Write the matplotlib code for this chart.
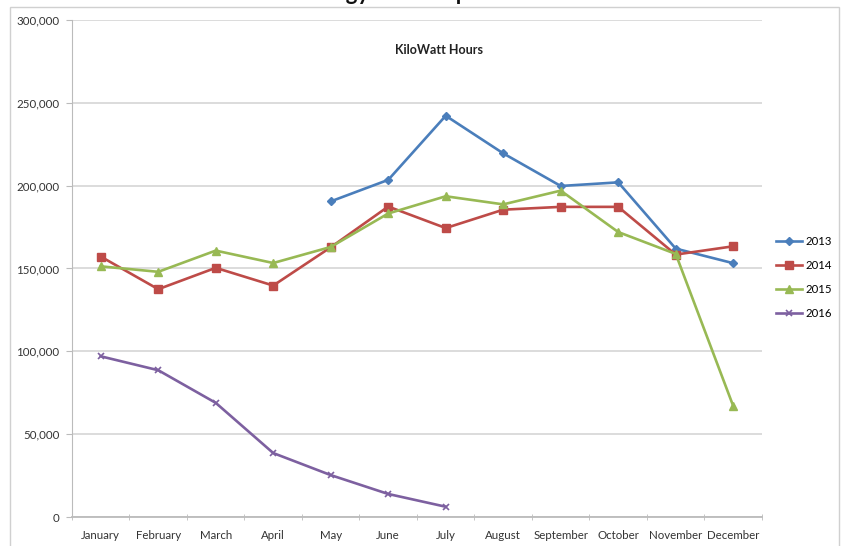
import numpy as np
import matplotlib.pyplot as plt
from matplotlib.ticker import FuncFormatter, FixedLocator
from matplotlib.patches import Rectangle

plt.rcParams['font.family'] = ['Lato', 'DejaVu Sans']

months = ["January", "February", "March", "April", "May", "June", "July",
          "August", "September", "October", "November", "December"]

kwh_2013 = [np.nan, np.nan, np.nan, np.nan, 190500, 203500, 242200,
            219500, 199800, 202000, 162000, 153200]
kwh_2014 = [157200, 137500, 150400, 139700, 162800, 187400, 174400,
            185500, 187200, 187200, 158400, 163400]
kwh_2015 = [151300, 148000, 160800, 153300, 163000, 183200, 193600,
            188700, 197000, 172000, 158800, 67000]
kwh_2016 = [97000, 88600, 68900, 38600, 25300, 13900, 6200]

fig = plt.figure(figsize=(8.44, 5.46), dpi=100)
ax = fig.add_axes([0.0853, 0.0531, 0.8175, 0.9103])

# chart area frame
fig.patches.append(Rectangle((10 / 844, -0.05), 829 / 844, 1 - 7 / 546 + 0.05,
                             transform=fig.transFigure, fill=False,
                             edgecolor="#d0d0d0", linewidth=1.0))

x = np.arange(len(months))
ax.plot(x, kwh_2013, color="#4a7ebb", lw=1.9, marker="D", ms=4.5, label="2013")
ax.plot(x, kwh_2014, color="#be4b48", lw=1.9, marker="s", ms=5.5, label="2014")
ax.plot(x, kwh_2015, color="#98b954", lw=1.9, marker="^", ms=5.5, label="2015")
ax.plot(x[:len(kwh_2016)], kwh_2016, color="#7d60a0", lw=1.9, marker="x",
        ms=5, mew=1.2, label="2016")

ax.set_xlim(-0.5, 11.5)
ax.set_ylim(0, 300000)
ax.set_yticks(np.arange(0, 300001, 50000))
ax.yaxis.set_major_formatter(FuncFormatter(lambda v, p: f"{int(v):,}"))
ax.yaxis.grid(True, color="#d9d9d9", lw=1.3)
ax.set_axisbelow(True)

ax.set_xticks(x)
ax.set_xticklabels(months)
ax.xaxis.set_minor_locator(FixedLocator(np.arange(-0.5, 12, 1)))
ax.tick_params(axis="x", which="major", length=0, pad=9, labelsize=8.3,
               labelcolor="#333333")
ax.tick_params(axis="x", which="minor", length=4, color="#bbbbbb", direction="inout")
ax.tick_params(axis="y", length=4, color="#bbbbbb", pad=5, labelsize=8.3,
               labelcolor="#333333")

for side in ["top", "right"]:
    ax.spines[side].set_visible(False)
ax.spines["left"].set_color("#bbbbbb")
ax.spines["bottom"].set_color("#bbbbbb")
ax.spines["bottom"].set_linewidth(1.3)

ax.text(0.532, 0.94, "KiloWatt Hours", transform=ax.transAxes, ha="center",
        va="center", fontsize=9, fontweight="bold", color="#222222")

fig.text(0.478, 1.0, "Energy Consumption", ha="center", va="baseline",
         fontsize=16, fontweight="bold", color="#111111")

ax.legend(loc="center left", bbox_to_anchor=(1.005, 0.482), frameon=False,
          fontsize=8.2, handlelength=2.3, labelspacing=1.15, handletextpad=0.3)

fig.savefig("out.png", dpi=100)
